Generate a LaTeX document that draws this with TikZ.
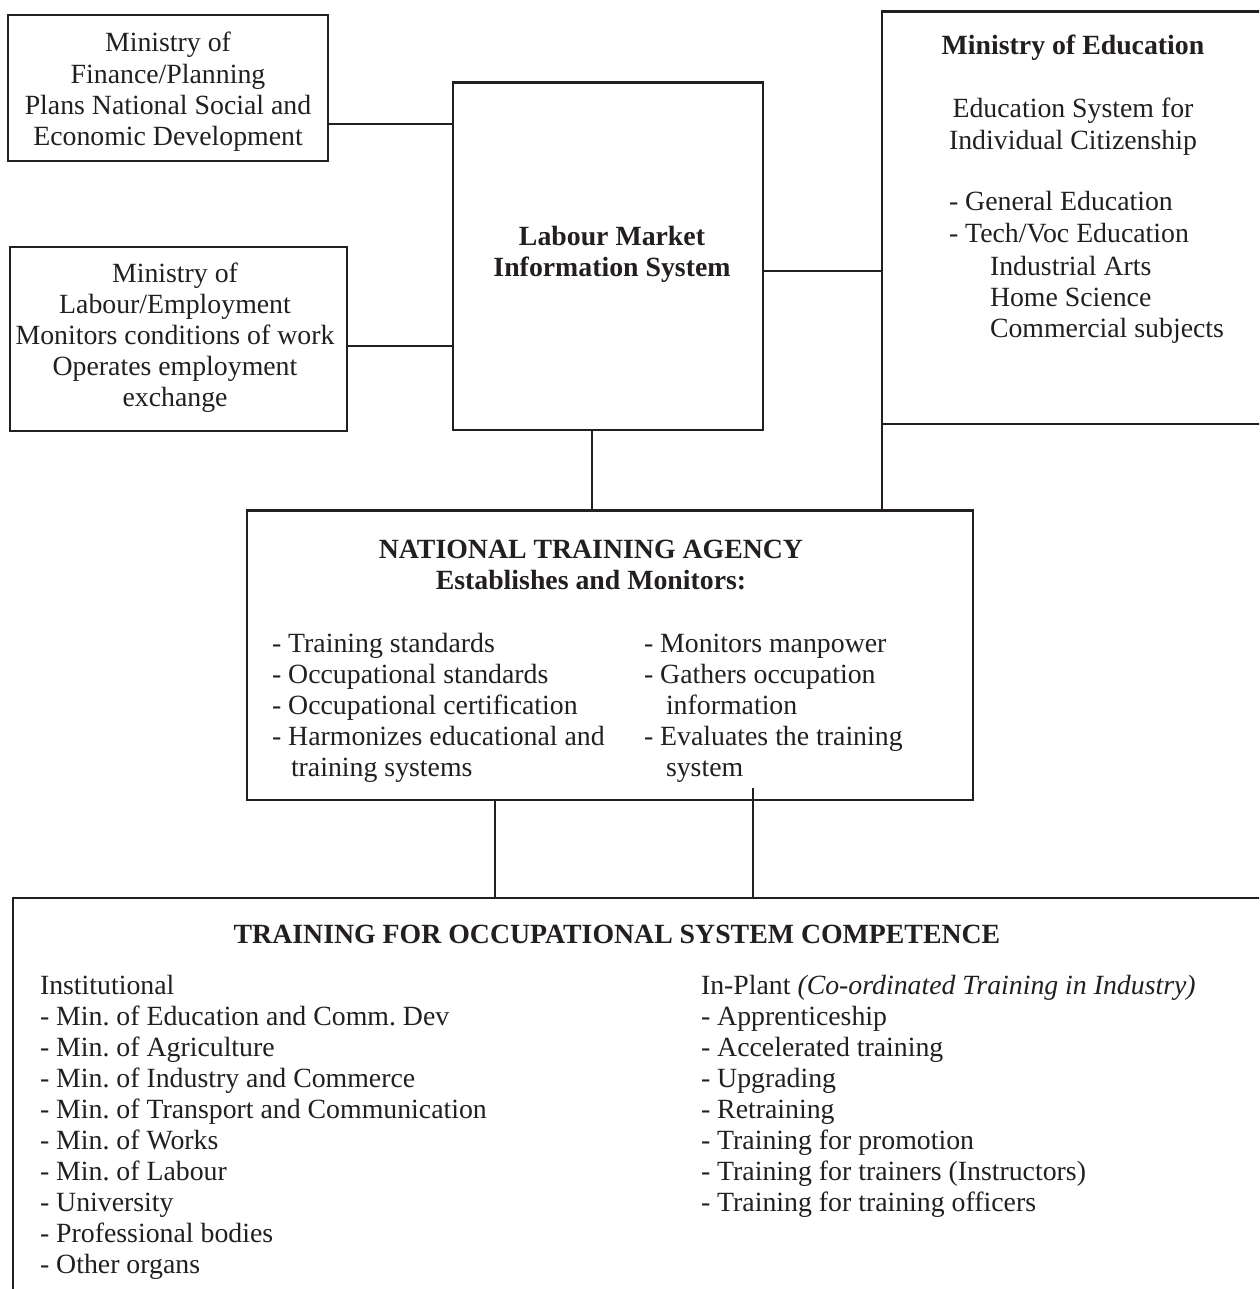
\documentclass[tikz,border=0pt]{standalone}
\usepackage{fontspec}
\setmainfont{Liberation Serif}
\definecolor{inkc}{RGB}{35,31,32}
\renewcommand\arraystretch{1}
\frenchspacing
\begin{document}
\begin{tikzpicture}[x=1pt,y=-1pt,
  ink/.style={draw=inkc, line width=2.2pt},
  box/.style={ink, rectangle, inner sep=0pt, outer sep=0pt},
  link/.style={ink},
  txt/.style={inner sep=0pt, outer sep=0pt, text=inkc,
              font=\fontsize{27.8}{31.1}\selectfont},
  hd/.style={txt, font=\fontsize{27.8}{31.1}\selectfont\bfseries}]
\clip (0,0) rectangle (1259,1289);
\fill[white] (0,0) rectangle (1259,1289);

% boxes
\node[box, minimum width=320pt, minimum height=146pt] (fin) at (168,88) {};
\node[box, minimum width=337pt, minimum height=184pt] (lab) at (178.5,339) {};
\node[box, minimum width=310.5pt, minimum height=347.5pt] (lmis) at (608,256.3) {};
\node[box, anchor=north west, minimum width=420pt, minimum height=412.5pt] (moe) at (882,11.5) {};
\node[box, minimum width=726pt, minimum height=289.5pt] (nta) at (610,655.3) {};
\node[box, anchor=north west, minimum width=1300pt, minimum height=450pt] (tocs) at (13,898) {};

% connector guides
\coordinate (hfin) at (0,124);
\coordinate (hlab) at (0,346);
\coordinate (hmoe) at (0,271);
\coordinate (vlm) at (592,0);
\coordinate (vA) at (495,0);
\coordinate (vB) at (753,0);
\coordinate (ntaB) at (753,788);

% connectors
\draw[link] (fin.east |- hfin) -- (lmis.west |- hfin);
\draw[link] (lab.east |- hlab) -- (lmis.west |- hlab);
\draw[link] (lmis.east |- hmoe) -- (moe.west |- hmoe);
\draw[link] (vlm |- lmis.south) -- (vlm |- nta.north);
\draw[link] (moe.south west) -- (moe.south west |- nta.north);
\draw[link] (vA |- nta.south) -- (vA |- tocs.north);
\draw[link] (ntaB) -- (vB |- tocs.north);

% texts
\node[txt, anchor=base] (finT) at (168,52) {\begin{tabular}[t]{@{}c@{}}
Ministry of\\ Finance/Planning\\ Plans National Social and\\ Economic Development\end{tabular}};

\node[txt, anchor=base] (labT) at (175,282) {\begin{tabular}[t]{@{}c@{}}
Ministry of\\ Labour/Employment\\ Monitors conditions of work\\ Operates employment\\ exchange\end{tabular}};

\node[hd, anchor=base] (lmisT) at (612,245.5) {\begin{tabular}[t]{@{}c@{}}
Labour Market\\ Information System\end{tabular}};

\node[hd, anchor=base] (moeT) at (1073,55) {Ministry of Education};
\node[txt, anchor=base] (moeS) at (1073,118) {\begin{tabular}[t]{@{}c@{}}
Education System for\\ Individual Citizenship\end{tabular}};
\node[txt, anchor=base west] (moeL) at (949,211) {\begin{tabular}[t]{@{}l@{}}
- General Education\\ - Tech/Voc Education\end{tabular}};
\node[txt, anchor=base west] (moeK) at (990,275.5) {\begin{tabular}[t]{@{}l@{}}
Industrial Arts\\ Home Science\\ Commercial subjects\end{tabular}};

\node[hd, anchor=base] (ntaT) at (591,558) {\begin{tabular}[t]{@{}c@{}}
NATIONAL TRAINING AGENCY\\ Establishes and Monitors:\end{tabular}};
\node[txt, anchor=base west] (ntaL) at (272,652) {\begin{tabular}[t]{@{}l@{}}
- Training standards\\ - Occupational standards\\ - Occupational certification\\
- Harmonizes educational and\\ \hspace*{19pt}training systems\end{tabular}};
\node[txt, anchor=base west] (ntaR) at (644,652) {\begin{tabular}[t]{@{}l@{}}
- Monitors manpower\\ - Gathers occupation\\ \hspace*{22pt}information\\
- Evaluates the training\\ \hspace*{22pt}system\end{tabular}};

\node[hd, anchor=base] (tocsT) at (617,943) {TRAINING FOR OCCUPATIONAL SYSTEM COMPETENCE};
\node[txt, anchor=base west] (tocsL) at (40,994) {\begin{tabular}[t]{@{}l@{}}
Institutional\\ - Min. of Education and Comm. Dev\\ - Min. of Agriculture\\
- Min. of Industry and Commerce\\ - Min. of Transport and Communication\\
- Min. of Works\\ - Min. of Labour\\ - University\\ - Professional bodies\\
- Other organs\end{tabular}};
\node[txt, anchor=base west] (tocsR) at (701,994) {\begin{tabular}[t]{@{}l@{}}
In-Plant \textit{(Co-ordinated Training in Industry)}\\ - Apprenticeship\\
- Accelerated training\\ - Upgrading\\ - Retraining\\ - Training for promotion\\
- Training for trainers (Instructors)\\ - Training for training officers\end{tabular}};
\end{tikzpicture}
\end{document}
